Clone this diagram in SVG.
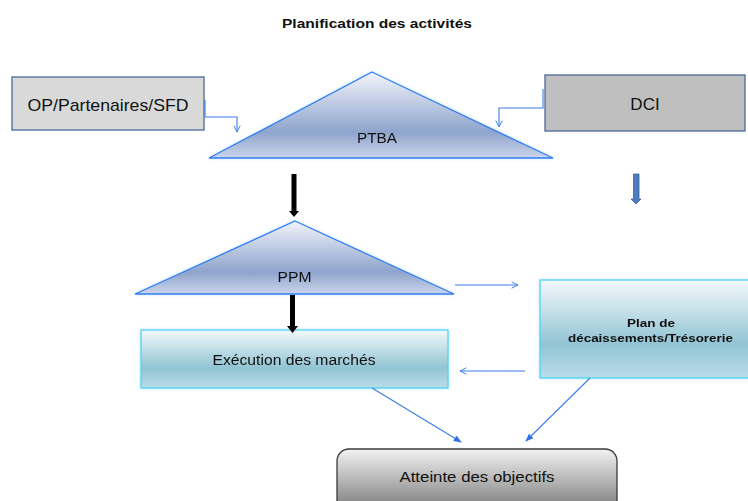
<svg xmlns="http://www.w3.org/2000/svg" width="748" height="501" viewBox="0 0 748 501">
<defs>
<linearGradient id="tri" x1="0" y1="0" x2="0" y2="1">
<stop offset="0" stop-color="#f2f4fa"/>
<stop offset="0.7" stop-color="#8ea4cc"/>
<stop offset="1" stop-color="#cbd5ea"/>
</linearGradient>
<linearGradient id="cyan" x1="0" y1="0" x2="0" y2="1">
<stop offset="0" stop-color="#f3f9fb"/>
<stop offset="0.65" stop-color="#92c4d4"/>
<stop offset="1" stop-color="#b9dce7"/>
</linearGradient>
<linearGradient id="grey" x1="0" y1="0" x2="0" y2="1">
<stop offset="0" stop-color="#f2f2f2"/>
<stop offset="1" stop-color="#6a6a6a"/>
</linearGradient>
<filter id="glow" x="-10%" y="-10%" width="120%" height="130%">
<feGaussianBlur in="SourceAlpha" stdDeviation="1.5" result="b"/>
<feFlood flood-color="#9fd8ff" flood-opacity="0.7"/>
<feComposite in2="b" operator="in" result="g"/>
<feMerge><feMergeNode in="g"/><feMergeNode in="SourceGraphic"/></feMerge>
</filter>
<marker id="open" viewBox="0 0 10 10" refX="9" refY="5" markerWidth="8" markerHeight="8" markerUnits="userSpaceOnUse" orient="auto">
<path d="M1,1 L9,5 L1,9" fill="none" stroke="#3b7de8" stroke-width="1.2"/>
</marker>
<marker id="fill" viewBox="0 0 10 10" refX="9" refY="5" markerWidth="8" markerHeight="8" markerUnits="userSpaceOnUse" orient="auto">
<path d="M0,1 L10,5 L0,9 Z" fill="#2f6fe8"/>
</marker>
<style>
.t{font-family:"Liberation Sans",Arial,sans-serif;fill:#111;text-anchor:middle}
.c{stroke:#3b7de8;stroke-width:1.1;fill:none}
.tri{fill:url(#tri);stroke:#2f7cf6;stroke-width:1.3}
</style>
</defs>
<rect width="748" height="501" fill="#fff"/>
<text class="t" x="377" y="28" font-size="13.5" font-weight="bold" textLength="190" lengthAdjust="spacingAndGlyphs">Planification des activités</text>

<g id="op">
<rect x="12" y="77" width="192" height="53" fill="#d9d9d9" stroke="#4a6a9a" stroke-width="1.3"/>
<text class="t" x="108" y="111" font-size="17" textLength="161" lengthAdjust="spacingAndGlyphs">OP/Partenaires/SFD</text>
</g>
<g id="dci">
<rect x="545" y="75" width="200" height="56" fill="#bfbfbf" stroke="#4a6a9a" stroke-width="1.3"/>
<text class="t" x="645" y="110" font-size="17">DCI</text>
</g>
<g id="ptba" filter="url(#glow)">
<polygon class="tri" points="372,72 553,158 209,158"/>
<text class="t" x="377" y="143" font-size="14" textLength="40" lengthAdjust="spacingAndGlyphs">PTBA</text>
</g>
<g id="ppm" filter="url(#glow)">
<polygon class="tri" points="295,221 454,294 135,294"/>
<text class="t" x="294.5" y="282" font-size="14" textLength="34" lengthAdjust="spacingAndGlyphs">PPM</text>
</g>
<g id="execution" filter="url(#glow)">
<rect x="141" y="330" width="307" height="58" fill="url(#cyan)" stroke="#4fd4f5" stroke-width="1.3"/>
<text class="t" x="294" y="365" font-size="14" textLength="163" lengthAdjust="spacingAndGlyphs">Exécution des marchés</text>
</g>
<g id="plan" filter="url(#glow)">
<rect x="540" y="280" width="212" height="98" fill="url(#cyan)" stroke="#4fd4f5" stroke-width="1.3"/>
<text class="t" x="651" y="327" font-size="11.5" font-weight="bold" textLength="48" lengthAdjust="spacingAndGlyphs">Plan de</text>
<text class="t" x="650.5" y="342" font-size="11.5" font-weight="bold" textLength="165" lengthAdjust="spacingAndGlyphs">décaissements/Trésorerie</text>
</g>
<g id="atteinte">
<rect x="337" y="449" width="280" height="70" rx="12" fill="url(#grey)" stroke="#3a3a3a" stroke-width="1.3"/>
<text class="t" x="477" y="482" font-size="15.5" textLength="155" lengthAdjust="spacingAndGlyphs">Atteinte des objectifs</text>
</g>

<g id="connectors">
<path class="c" d="M205,100 V117 H237 V132" marker-end="url(#open)"/>
<path class="c" d="M543,89 V108 H499 V127" marker-end="url(#open)"/>
<path d="M291.5,174 H296.5 V211 H299 L294,217 L289,211 H291.5 Z" fill="#000"/>
<path d="M290,295 H295 V326 H298 L292.5,333 L287,326 H290 Z" fill="#000"/>
<path d="M633.5,174 H639 V199 H641 L636,204 L631,199 H633.5 Z" fill="#4f7bbf" stroke="#3a62a0" stroke-width="0.8"/>
<path class="c" d="M455,285 H518" marker-end="url(#open)"/>
<path class="c" d="M525,371 H460" marker-end="url(#open)"/>
<path class="c" d="M372,388 L461,442" marker-end="url(#fill)"/>
<path class="c" d="M590,378 L526,441" marker-end="url(#fill)"/>
</g>
</svg>
